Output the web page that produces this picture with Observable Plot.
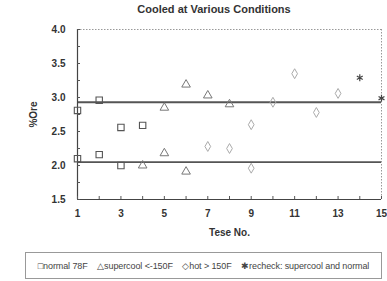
<!DOCTYPE html>
<html><head><meta charset="utf-8">
<script src="https://cdn.jsdelivr.net/npm/d3@7"></script>
<script src="https://cdn.jsdelivr.net/npm/@observablehq/plot@0.6"></script>
<style>
body{margin:0;background:#fff;}
#wrap{position:relative;width:387px;height:281px;overflow:hidden;font-family:"Liberation Sans",Arial,sans-serif;}
#title{position:absolute;left:41px;width:346px;top:3px;text-align:center;font-weight:bold;font-size:11px;color:#333;}
#chart{position:absolute;left:0;top:0;}
#legend{position:absolute;left:25px;top:252px;width:357px;height:27px;border:1px solid #999;box-sizing:border-box;font-size:9px;color:#444;display:flex;align-items:center;justify-content:center;white-space:pre;letter-spacing:-0.1px;}
</style></head>
<body>
<div id="wrap">
<div id="chart"></div>
<div id="title">Cooled at Various Conditions</div>
<div id="legend"></div>
</div>
<script>
const title = "Cooled at Various Conditions";
const xLabel = "Tese No.";
const yLabel = "%Ore";
const seriesNames = ["normal 78F", "supercool <-150F", "hot > 150F", "recheck: supercool and normal"];
const normalX = [1, 1, 2, 2, 3, 3, 4];
const normalY = [2.81, 2.10, 2.96, 2.16, 2.56, 2.00, 2.59];
const supercoolX = [4, 5, 5, 6, 6, 7, 8];
const supercoolY = [2.00, 2.85, 2.18, 3.19, 1.91, 3.03, 2.90];
const hotX = [7, 8, 9, 9, 10, 11, 12, 13];
const hotY = [2.28, 2.25, 2.60, 1.96, 2.93, 3.35, 2.78, 3.06];
const recheckX = [14, 15];
const recheckY = [3.29, 2.99];
const refLines = [2.93, 2.05];
const xTickLabels = [1, 3, 5, 7, 9, 11, 13, 15];
const xTicksAll = d3.range(1, 16);
const yTickLabels = [1.5, 2.0, 2.5, 3.0, 3.5, 4.0];
const yTicksMinor = d3.range(1.5, 4.01, 0.25);

const pts = (xs, ys) => xs.map((x, i) => ({x, y: ys[i]}));

const chart = Plot.plot({
  width: 387, height: 250,
  marginTop: 29, marginBottom: 51, marginLeft: 77, marginRight: 6,
  style: {fontFamily: '"Liberation Sans", Arial, sans-serif', fontSize: "10px", fontWeight: "bold", color: "#333", background: "transparent"},
  x: {domain: [1, 15]},
  y: {domain: [1.5, 4.0]},
  marks: [
    Plot.ruleY([4.0], {stroke: "#999", strokeDasharray: "1.5,1.5", strokeWidth: 1}),
    Plot.ruleX([15], {stroke: "#999", strokeDasharray: "1.5,1.5", strokeWidth: 1}),
    Plot.ruleY(refLines, {stroke: "#555", strokeWidth: 1.8}),
    Plot.ruleY([1.5], {stroke: "#444", strokeWidth: 1.2}),
    Plot.ruleX([1], {stroke: "#444", strokeWidth: 1.2}),
    Plot.axisX({ticks: xTicksAll, tickSize: -3, tickFormat: () => "", label: null, stroke: "#555"}),
    Plot.axisX({ticks: xTickLabels, tickSize: 0, tickPadding: 10, tickFormat: d => d, label: xLabel, labelAnchor: "center", labelOffset: 36, labelArrow: "none", fill: "#333"}),
    Plot.axisY({ticks: yTicksMinor, tickSize: -3, tickFormat: () => "", label: null, stroke: "#555"}),
    Plot.axisY({ticks: yTickLabels, tickSize: 0, tickPadding: 12, tickFormat: d3.format(".1f"), label: yLabel, labelAnchor: "center", labelOffset: 48, labelArrow: "none", fill: "#333"}),
    Plot.dot(pts(normalX, normalY), {x: "x", y: "y", symbol: "square", r: 3.6, stroke: "#555", strokeWidth: 1.1, fill: "none"}),
    Plot.dot(pts(supercoolX, supercoolY), {x: "x", y: "y", symbol: "triangle", r: 3.2, stroke: "#777", strokeWidth: 1, fill: "none"}),
    Plot.dot(pts(hotX, hotY), {x: "x", y: "y", symbol: "diamond", r: 3, stroke: "#aaa", strokeWidth: 1, fill: "none"}),
    Plot.dot(pts(recheckX, recheckY), {x: "x", y: "y", symbol: "asterisk", r: 3.2, stroke: "#444", strokeWidth: 1.2, fill: "none"})
  ]
});
document.getElementById("chart").appendChild(chart);
document.getElementById("title").textContent = title;
const glyphs = ["\u25A1", "\u25B3", "\u25C7", "\u2731"];
document.getElementById("legend").textContent = seriesNames.map((n, i) => glyphs[i] + n).join("    ");
</script>
</body></html>
